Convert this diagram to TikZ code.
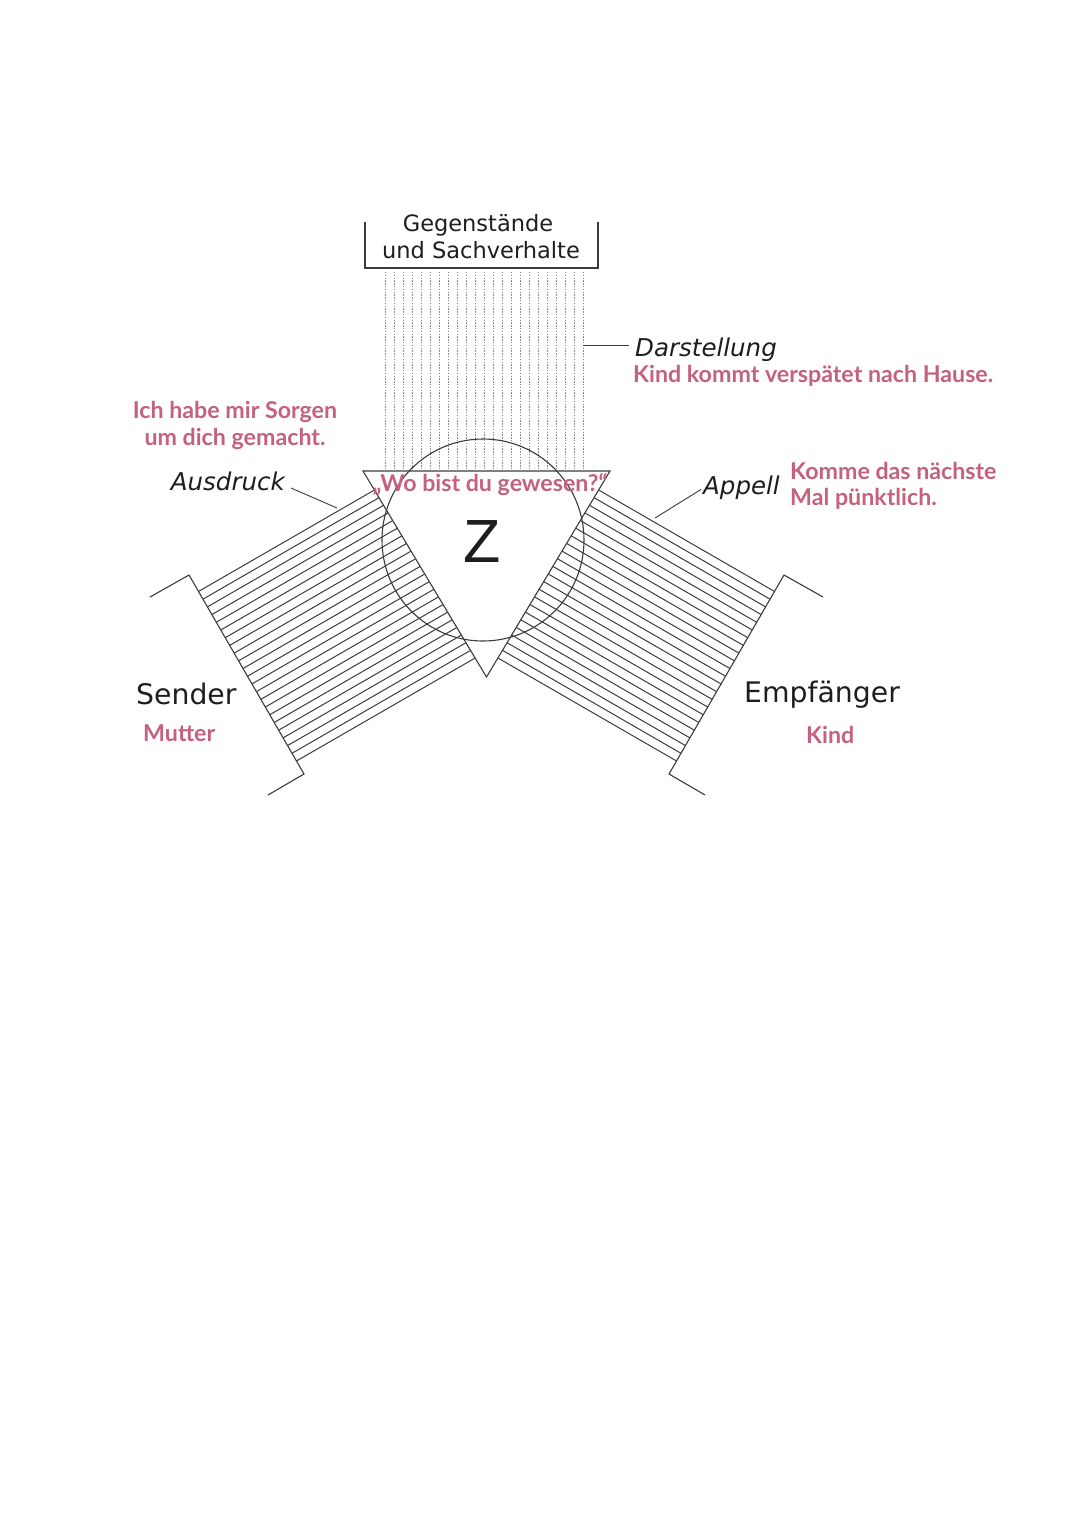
\documentclass[tikz,border=0pt]{standalone}
\usepackage{fontspec}
\setmainfont{DejaVu Sans}
\newfontfamily\redfont{Lato}
\newfontfamily\zfont{Liberation Sans}
\usetikzlibrary{calc}
\definecolor{rosa}{RGB}{196,98,126}
\definecolor{ink}{RGB}{30,30,30}
\definecolor{lineg}{RGB}{60,60,60}
\begin{document}
\begin{tikzpicture}[x=1pt,y=-1pt,
  lbl/.style={inner sep=0pt,text=ink},
  ital/.style={lbl,font=\itshape\fontsize{24.5}{29}\selectfont},
  upr/.style={lbl,font=\fontsize{22.5}{27}\selectfont},
  big/.style={lbl,font=\fontsize{28.3}{34}\selectfont},
  redtxt/.style={inner sep=0pt,text=rosa,font=\redfont\bfseries\fontsize{23.2}{27}\selectfont},
  hatch/.style={draw=lineg,line width=1pt},
  dotline/.style={draw=black!45,line width=0.9pt,dash pattern=on 1.3pt off 1.5pt},
  frame/.style={draw=lineg,line width=1.1pt},
  conn/.style={draw=lineg,line width=0.9pt}]
\useasboundingbox (0,0) rectangle (1080,1527);
\fill[white] (0,0) rectangle (1080,1527);

% triangle corners
\coordinate (T1) at (363,471);
\coordinate (T2) at (610,471);
\coordinate (T3) at (486.5,677);

% dotted field (Gegenstaende)
\foreach \k in {0,...,22}{
  \draw[dotline] (385+9*\k,272) -- (385+9*\k,471);
}

% left band hatch
\coordinate (LA) at (150,597);
\coordinate (LB) at (189,575);
\coordinate (LC) at (304,774);
\coordinate (LD) at (268,795);
\foreach \k in {0,...,22}{
  \pgfmathsetmacro\s{19+8.9*\k}
  \coordinate (hs) at ($(LB)+(0.5*\s,0.866*\s)$);
  \coordinate (hf) at ($(hs)+(260,-150)$);
  \draw[hatch] (hs) -- (intersection of hs--hf and T1--T3);
}
% right band hatch
\coordinate (RA) at (823,597);
\coordinate (RB) at (784,575);
\coordinate (RC) at (669,774);
\coordinate (RD) at (705,795);
\foreach \k in {0,...,22}{
  \pgfmathsetmacro\s{19+8.9*\k}
  \coordinate (hs) at ($(RB)+(-0.5*\s,0.866*\s)$);
  \coordinate (hf) at ($(hs)+(-260,-150)$);
  \draw[hatch] (hs) -- (intersection of hs--hf and T2--T3);
}

% brackets
\draw[frame] (LA) -- (LB) -- (LC) -- (LD);
\draw[frame] (RA) -- (RB) -- (RC) -- (RD);

% triangle and circle
\draw[frame,fill=white] (T1) -- (T2) -- (T3) -- cycle;
\draw[frame] (483,540) circle[radius=101];

% top box
\draw[frame] (365,222) -- (365,268) -- (598,268) -- (598,222);

% labels
\node[upr,anchor=base] (geg) at (478,231.5) {Gegenstände};
\node[upr,anchor=base] (sach) at (481,258.5) {und Sachverhalte};
\node[ital,anchor=base west] (darst) at (635,356) {Darstellung};
\node[ital,anchor=base east] (ausdruck) at (285,490) {Ausdruck};
\node[ital,anchor=base west] (appell) at (703,494.5) {Appell};
\node[big,anchor=base west] (sender) at (136,704) {Sender};
\node[big,anchor=base west] (empf) at (744,702) {Empfänger};
\node[lbl,anchor=base,font=\zfont\fontsize{61}{70}\selectfont] (z) at (482.5,562) {Z};

% connectors
\coordinate (dsA) at (583,345);
\coordinate (ausE) at (337,508);
\coordinate (appE) at (655,518);
\draw[conn] (dsA) -- ($(darst.west |- dsA)+(-6,0)$);
\draw[conn] ($(ausdruck.base east)+(6,-2)$) -- (ausE);
\draw[conn] ($(appell.base west)+(-2,-5)$) -- (appE);

% red annotations
\node[redtxt,anchor=base] (sorg1) at (235,418.5) {Ich habe mir Sorgen};
\node[redtxt,anchor=base] (sorg2) at (235,445) {um dich gemacht.};
\node[redtxt,anchor=base west] (kindk) at (633,382.5) {Kind kommt verspätet nach Hause.};
\node[redtxt,anchor=base] (wo) at (490,491.5) {„Wo bist du gewesen?“};
\node[redtxt,anchor=base west] (komme1) at (790,479) {Komme das nächste};
\node[redtxt,anchor=base west] (komme2) at (790,505.5) {Mal pünktlich.};
\node[redtxt,anchor=base west] (mutter) at (143,741) {Mutter};
\node[redtxt,anchor=base west] (kind) at (806,743) {Kind};
\end{tikzpicture}
\end{document}
